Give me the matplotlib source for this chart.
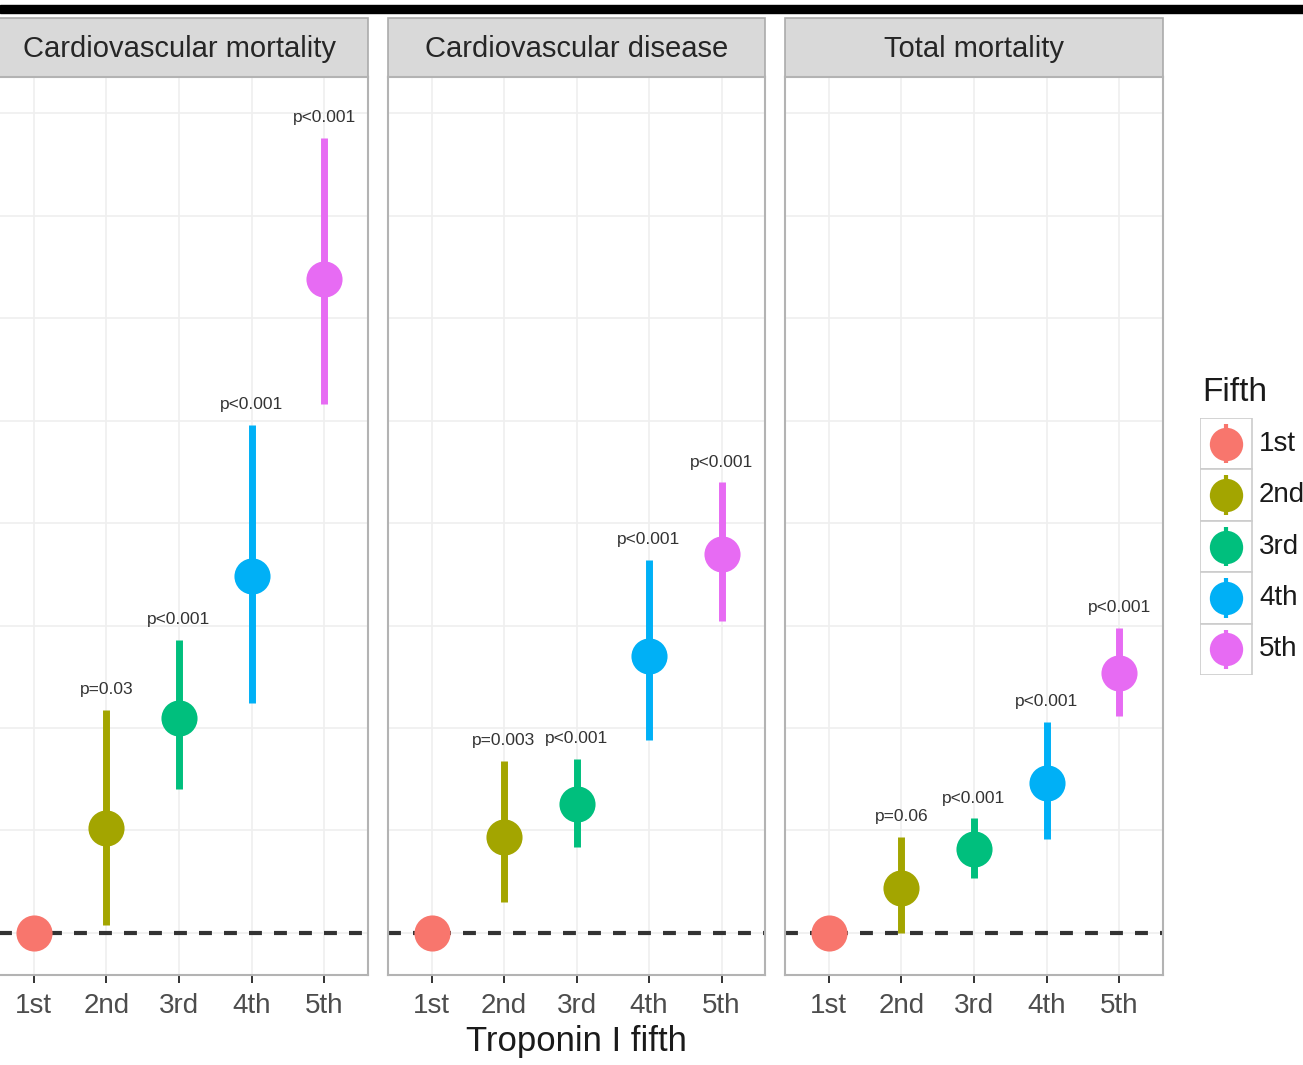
import numpy as np
import matplotlib.pyplot as plt
from matplotlib.patches import Rectangle

plt.rcParams['font.family'] = ['Liberation Sans', 'DejaVu Sans']

# data (hazard ratio with 95% CI, per fifth of troponin I)
panels = ['Cardiovascular mortality', 'Cardiovascular disease', 'Total mortality']
fifths = ['1st', '2nd', '3rd', '4th', '5th']
colors = ['#F8766D', '#A3A500', '#00BF7D', '#00B0F6', '#E76BF3']

hr = [
    [1.0, 1.51, 2.05, 2.74, 4.19],
    [1.0, 1.47, 1.63, 2.35, 2.85],
    [1.0, 1.22, 1.41, 1.73, 2.27],
]
lo = [
    [np.nan, 1.04, 1.70, 2.12, 3.58],
    [np.nan, 1.15, 1.42, 1.94, 2.52],
    [np.nan, 1.00, 1.27, 1.46, 2.06],
]
hi = [
    [np.nan, 2.09, 2.43, 3.48, 4.88],
    [np.nan, 1.84, 1.85, 2.82, 3.20],
    [np.nan, 1.47, 1.56, 2.03, 2.49],
]
pvals = [
    ['', 'p=0.03', 'p<0.001', 'p<0.001', 'p<0.001'],
    ['', 'p=0.003', 'p<0.001', 'p<0.001', 'p<0.001'],
    ['', 'p=0.06', 'p<0.001', 'p<0.001', 'p<0.001'],
]

W, H = 1303, 1065
fig = plt.figure(figsize=(W / 100, H / 100), dpi=100)


def box(x0, y0, x1, y1):
    # pixel box (origin top-left) -> figure rect
    return [x0 / W, 1 - y1 / H, (x1 - x0) / W, (y1 - y0) / H]


panel_x = [(-10, 368), (388, 765), (785, 1163)]
top, bottom, strip_top = 77, 975, 18
strip_h = (top - strip_top) / (bottom - top)
x = np.arange(1, 6)

for i, (x0, x1) in enumerate(panel_x):
    ax = fig.add_axes(box(x0, top, x1, bottom))
    ax.axhline(1, color='#333333', lw=3, dashes=(3.1, 2.9), zorder=2)
    for j in range(5):
        if not np.isnan(lo[i][j]):
            ax.vlines(x[j], lo[i][j], hi[i][j], color=colors[j], lw=5, zorder=3)
        ax.plot(x[j], hr[i][j], 'o', ms=26, color=colors[j], mec='none', zorder=4)
        if pvals[i][j]:
            ax.annotate(pvals[i][j], (x[j], hi[i][j]), xytext=(0, 20),
                        textcoords='offset pixels', ha='center', va='center',
                        fontsize=12.5, color='#333333')
    ax.set_xlim(0.4, 5.6)
    ax.set_ylim(0.795, 5.176)
    ax.set_xticks(x, fifths)
    ax.set_yticks(np.arange(1, 5.01, 0.5))
    ax.tick_params(axis='y', length=0, labelleft=False)
    ax.tick_params(axis='x', length=6, width=1.4, color='#333333',
                   labelsize=20, labelcolor='#4D4D4D', pad=7)
    ax.grid(True, color='#EFEFEF', lw=1.2)
    ax.set_axisbelow(True)
    for s in ax.spines.values():
        s.set_color('#B3B3B3')
        s.set_linewidth(1.5)
    # facet strip
    ax.add_patch(Rectangle((0, 1), 1, strip_h, transform=ax.transAxes,
                           facecolor='#D9D9D9', edgecolor='#ABABAB', lw=1.2,
                           clip_on=False))
    ax.text(0.5, 1 + strip_h / 2 - 2 / (bottom - top), panels[i],
            transform=ax.transAxes, ha='center', va='center', fontsize=21,
            color='#262626')

fig.text(576.5 / W, 1 - 1042 / H, 'Troponin I fifth', ha='center', va='center',
         fontsize=25, color='#1A1A1A')

# black bar along the top edge
fig.patches.append(Rectangle((0, 1 - 13 / H), 1, 8 / H, transform=fig.transFigure,
                             color='black'))

# legend with boxed keys
lax = fig.add_axes(box(1200, 418, 1320, 675))
lax.set_xlim(0, 120)
lax.set_ylim(257, 0)
lax.axis('off')
kh = 257 / 5
for j in range(5):
    lax.add_patch(Rectangle((0, j * kh), 52, kh, facecolor='white',
                            edgecolor='#CCCCCC', lw=1.2))
    lax.vlines(26, j * kh + 6, (j + 1) * kh - 6, color=colors[j], lw=3)
    lax.plot(26, j * kh + kh / 2, 'o', ms=24, color=colors[j], mec='none')
    lax.text(59, j * kh + kh / 2, fifths[j], va='center', fontsize=20,
             color='#1A1A1A')
lax.text(2, -26, 'Fifth', fontsize=24, va='center', color='#1A1A1A', clip_on=False)

fig.savefig('out.png', dpi=100)
